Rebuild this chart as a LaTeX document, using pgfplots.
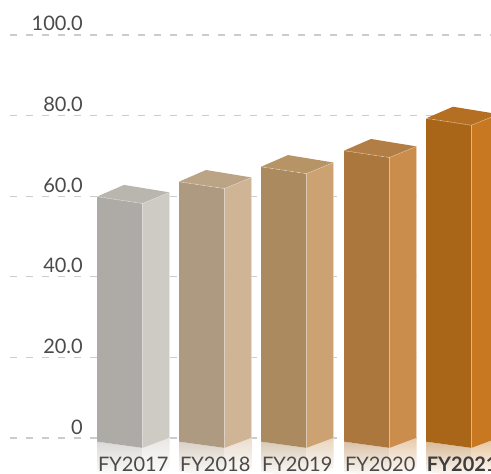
\documentclass[border=0pt]{standalone}
\usepackage{pgfplots}
\pgfplotsset{compat=1.18}
\usepackage{fontspec}
\setmainfont{Lato}
\definecolor{txt}{HTML}{4A4A4A}
\definecolor{txtb}{HTML}{3D3D3D}
\definecolor{gridc}{HTML}{CCCCCC}
\definecolor{aF}{HTML}{AEABA6}\definecolor{aS}{HTML}{CECAC4}\definecolor{aT}{HTML}{B9B6B0}
\definecolor{bF}{HTML}{AD9A80}\definecolor{bS}{HTML}{CFB596}\definecolor{bT}{HTML}{BBA385}
\definecolor{cF}{HTML}{AC8A60}\definecolor{cS}{HTML}{CCA272}\definecolor{cT}{HTML}{B69466}
\definecolor{dF}{HTML}{AB773D}\definecolor{dS}{HTML}{CB8D4B}\definecolor{dT}{HTML}{B27E45}
\definecolor{eF}{HTML}{A96618}\definecolor{eS}{HTML}{C87820}\definecolor{eT}{HTML}{B46F22}
% #1 front-left x, #2 value, #3 colour prefix
\newcommand\drawbar[3]{%
  \pgfmathsetmacro\xa{#1}%
  \pgfmathsetmacro\xb{#1+45.5}%
  \pgfmathsetmacro\xc{#1+45.5+27}%
  \pgfmathsetmacro\xd{#1+27}%
  \pgfmathsetmacro\ya{#2}%
  \pgfmathsetmacro\yb{#2-1.7}%
  \pgfmathsetmacro\yc{#2-1.7+2.75}%
  \pgfmathsetmacro\yd{#2+2.9}%
  \pgfmathsetmacro\ba{-0.9}%
  \pgfmathsetmacro\bb{-0.9-1.55}%
  \pgfmathsetmacro\bc{-0.9-1.55+2.5}%
  \pgfmathsetmacro\ra{-0.9-7.5}%
  \pgfmathsetmacro\rb{-0.9-1.55-7.5}%
  \pgfmathsetmacro\rc{-0.9-1.55+2.5-7.5}%
  \edef\tmp{%
    \noexpand\addplot[draw=none, top color=#3F!45!white, bottom color=white] coordinates {(\xa,\ba) (\xb,\bb) (\xb,\rb) (\xa,\ra)};
    \noexpand\addplot[draw=none, top color=#3S!45!white, bottom color=white] coordinates {(\xb,\bb) (\xc,\bc) (\xc,\rc) (\xb,\rb)};
    \noexpand\addplot[draw=none, fill=#3F] coordinates {(\xa,\ba) (\xb,\bb) (\xb,\yb) (\xa,\ya)};
    \noexpand\addplot[draw=none, fill=#3S] coordinates {(\xb,\bb) (\xc,\bc) (\xc,\yc) (\xb,\yb)};
    \noexpand\addplot[draw=none, fill=#3T] coordinates {(\xa,\ya) (\xb,\yb) (\xc,\yc) (\xd,\yd)};
    \noexpand\addplot[draw=white, draw opacity=0.45, line width=0.6pt, dash pattern=on 5pt off 2pt] coordinates {(\xa,\ya) (\xb,\yb)};
    \noexpand\addplot[draw=white, draw opacity=0.35, line width=0.6pt] coordinates {(\xb,\bb) (\xb,\yb) (\xc,\yc) (\xc,\bc)};
  }\tmp
}
\begin{document}
\begin{tikzpicture}
\path[use as bounding box, clip] (0,0) rectangle (491pt,474pt);
\begin{axis}[
  at={(0,0)}, anchor=south west,
  scale only axis, width=491pt, height=474pt,
  xmin=0, xmax=491, ymin=-8.93, ymax=108.68,
  axis on top,
  axis line style={draw=none}, tick style={draw=none}, major tick length=0pt,
  ytick={0,20,40,60,80,100},
  yticklabels={0,20.0,40.0,60.0,80.0,100.0},
  yticklabel style={anchor=base east, inner sep=0pt, xshift=83pt, yshift=4pt, text=txt},
  xtick={133.25,215.25,297.25,380.25,462.25},
  xticklabels={FY2017,FY2018,FY2019,FY2020,{\color{txtb}\bfseries FY2021}},
  xticklabel style={anchor=base, inner sep=0pt, yshift=2pt, text=txt},
  tick label style={font=\fontsize{20}{24}\selectfont},
  /pgf/number format/assume math mode=true,
]
\pgfplotsinvokeforeach{0,20,40,60,80,100}{
  \draw[gridc, line width=1.2pt, dash pattern=on 7pt off 9pt] (axis cs:10,#1) -- (axis cs:491,#1);
}
\drawbar{97}{59.9}{a}
\drawbar{179}{63.6}{b}
\drawbar{261}{67.3}{c}
\drawbar{344}{71.3}{d}
\drawbar{426}{79.3}{e}
\end{axis}
\end{tikzpicture}
\end{document}
